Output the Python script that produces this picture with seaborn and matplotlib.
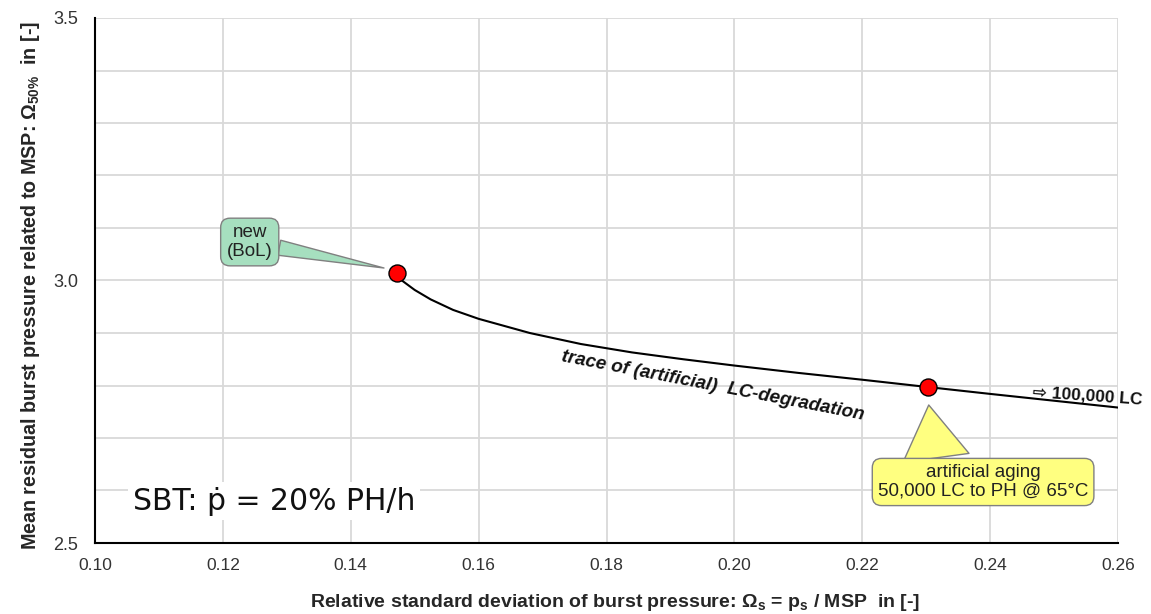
import numpy as np
import pandas as pd
import seaborn as sns
import matplotlib
matplotlib.use("Agg")
import matplotlib.pyplot as plt
from matplotlib import font_manager
from matplotlib.ticker import MultipleLocator, FixedLocator

# trace of the LC-degradation
trace_x = [0.1472, 0.1480, 0.1500, 0.1525, 0.1560, 0.1600, 0.1680, 0.1760, 0.1840,
           0.1920, 0.2000, 0.2100, 0.2200, 0.2303, 0.2400, 0.2500, 0.2600]
trace_y = [3.014, 3.000, 2.982, 2.964, 2.944, 2.927, 2.900, 2.879, 2.863,
           2.850, 2.838, 2.824, 2.811, 2.797, 2.784, 2.771, 2.758]

# the two test states
state_names = ['new (BoL)', 'artificial aging']
state_x = [0.1472, 0.2303]
state_y = [3.014, 2.797]

x_ticks = [0.10, 0.12, 0.14, 0.16, 0.18, 0.20, 0.22, 0.24, 0.26]
y_ticks = [2.5, 3.0, 3.5]

sns.set_style('white')
names = {f.name for f in font_manager.fontManager.ttflist}
narrow = 'Liberation Sans Narrow' if 'Liberation Sans Narrow' in names else None
plt.rcParams['font.family'] = ['Liberation Sans', 'DejaVu Sans']
plt.rcParams['mathtext.fontset'] = 'custom'
plt.rcParams['mathtext.rm'] = 'Liberation Sans'
plt.rcParams['mathtext.bf'] = 'Liberation Sans:bold'

df_trace = pd.DataFrame({'x': trace_x, 'y': trace_y})
df_states = pd.DataFrame({'state': state_names, 'x': state_x, 'y': state_y})

fig = plt.figure(figsize=(11.51, 6.14), dpi=100)
ax = fig.add_axes([95 / 1151, 1 - 543 / 614, (1118 - 95) / 1151, (543 - 18) / 614])

sns.lineplot(data=df_trace, x='x', y='y', sort=False, estimator=None,
             color='black', lw=1.5, ax=ax, zorder=3)
sns.scatterplot(data=df_states, x='x', y='y', color='#ff0000', edgecolor='black',
                linewidth=1, s=150, ax=ax, zorder=5, legend=False)

ax.set_xlim(0.10, 0.26)
ax.set_ylim(2.5, 3.5)
ax.xaxis.set_major_locator(FixedLocator(x_ticks))
ax.xaxis.set_minor_locator(MultipleLocator(0.004))
ax.yaxis.set_major_locator(FixedLocator(y_ticks))
ax.yaxis.set_minor_locator(MultipleLocator(0.1))
ax.set_xticklabels([f'{v:.2f}' for v in x_ticks])
ax.set_yticklabels([f'{v:.1f}' for v in y_ticks])

ax.set_axisbelow(True)
ax.grid(which='major', color='#d9d9d9', lw=1.3)
ax.yaxis.grid(True, which='minor', color='#d9d9d9', lw=1.3)
ax.xaxis.grid(False, which='minor')

for s in ['top', 'right']:
    ax.spines[s].set_visible(False)
for s in ['left', 'bottom']:
    ax.spines[s].set_color('black')
    ax.spines[s].set_linewidth(1.5)
    ax.spines[s].set_zorder(4)

ax.tick_params(axis='x', which='both', direction='inout', length=8, width=1.2,
               color='black', labelsize=12.5, pad=7, labelcolor='#333333')
ax.tick_params(axis='y', which='both', direction='out', length=6, width=1.2,
               color='black', labelsize=13, pad=6, labelcolor='#333333')

lab_family = [narrow, 'Liberation Sans'] if narrow else ['Liberation Sans']
ax.set_xlabel('Relative standard deviation of burst pressure: Ω$_{\\mathbf{s}}$ = p$_{\\mathbf{s}}$ / MSP  in [-]',
              fontsize=15 if narrow else 14, fontweight='bold', family=lab_family)
ax.set_ylabel('Mean residual burst pressure related to MSP: Ω$_{\\mathbf{50\\%}}$  in [-]',
              fontsize=15 if narrow else 14.2, fontweight='bold', family=lab_family)
ax.xaxis.set_label_coords(0.508, -0.094)
ax.yaxis.set_label_coords(-0.052, 0.49)

# callouts
green = '#a6dfbf'
ax.annotate('new\n(BoL)', xy=(0.1452, 3.0238), xytext=(0.1242, 3.0733),
            ha='center', va='center', fontsize=13.5, color='#222222', linespacing=1.1,
            bbox=dict(boxstyle='round,pad=0.33,rounding_size=0.5', fc=green, ec='#808080', lw=1),
            arrowprops=dict(arrowstyle='wedge,tail_width=0.55', mutation_scale=20,
                            fc=green, ec='#808080', lw=1, shrinkA=0, shrinkB=0),
            zorder=6)

yellow = '#ffff80'
ax.annotate('artificial aging\n50,000 LC to PH @ 65°C', xy=(0.2304, 2.7629), xytext=(0.2389, 2.6162),
            ha='center', va='center', fontsize=13.5, color='#222222', linespacing=1.15,
            bbox=dict(boxstyle='round,pad=0.3,rounding_size=0.5', fc=yellow, ec='#808080', lw=1),
            arrowprops=dict(arrowstyle='wedge,tail_width=2.4', mutation_scale=20, relpos=(0.28, 1.0),
                            fc=yellow, ec='#808080', lw=1, shrinkA=0, shrinkB=0),
            zorder=6)

ax.text(0.1967, 2.799, 'trace of (artificial)  LC-degradation', rotation=-11,
        rotation_mode='anchor', ha='center', va='center', fontsize=13.6,
        fontweight='bold', fontstyle='italic', color='#111111', zorder=6)
ax.text(0.2466, 2.7876, '⇨ 100,000 LC', rotation=-4, rotation_mode='anchor',
        ha='left', va='center', fontsize=12.5, fontweight='bold', color='#111111',
        clip_on=False, zorder=6)

ax.text(0.1059, 2.5629, 'SBT: ṗ = 20% PH/h', ha='left', va='baseline',
        fontsize=21.5, family=['DejaVu Sans'], color='#111111', zorder=6,
        bbox=dict(boxstyle='square,pad=0.15', fc='white', ec='none'))

fig.savefig('out.png', dpi=100)
